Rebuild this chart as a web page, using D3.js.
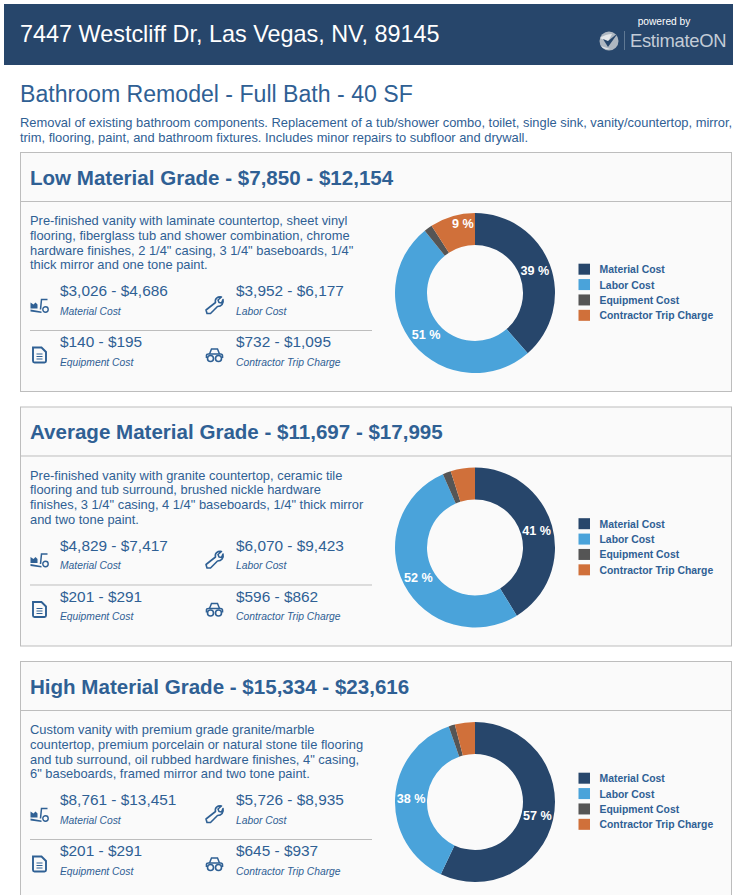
<!DOCTYPE html>
<html>
<head>
<meta charset="utf-8">
<script src="https://cdn.jsdelivr.net/npm/d3@7"></script>
<style>
  html, body { margin: 0; padding: 0; background: #fff; overflow: hidden; }
  svg { display: block; font-family: "Liberation Sans", Arial, sans-serif; }
</style>
</head>
<body>
<script>
const address = '7447 Westcliff Dr, Las Vegas, NV, 89145';
const pageTitle = 'Bathroom Remodel - Full Bath - 40 SF';
const intro = [
  'Removal of existing bathroom components. Replacement of a tub/shower combo, toilet, single sink, vanity/countertop, mirror,',
  'trim, flooring, paint, and bathroom fixtures. Includes minor repairs to subfloor and drywall.'
];

const costNames = ['Material Cost', 'Labor Cost', 'Equipment Cost', 'Contractor Trip Charge'];
const costColors = ['#27466b', '#4aa3da', '#555555', '#d0703a'];

const gradeTitles = [
  'Low Material Grade - $7,850 - $12,154',
  'Average Material Grade - $11,697 - $17,995',
  'High Material Grade - $15,334 - $23,616'
];
const gradeText = [
  ['Pre-finished vanity with laminate countertop, sheet vinyl',
   'flooring, fiberglass tub and shower combination, chrome',
   'hardware finishes, 2 1/4" casing, 3 1/4" baseboards, 1/4"',
   'thick mirror and one tone paint.'],
  ['Pre-finished vanity with granite countertop, ceramic tile',
   'flooring and tub surround, brushed nickle hardware',
   'finishes, 3 1/4" casing, 4 1/4" baseboards, 1/4" thick mirror',
   'and two tone paint.'],
  ['Custom vanity with premium grade granite/marble',
   'countertop, premium porcelain or natural stone tile flooring',
   'and tub surround, oil rubbed hardware finishes, 4" casing,',
   '6" baseboards, framed mirror and two tone paint.']
];
// low and high of each cost, same order as costNames
const lowCosts = [
  [3026, 3952, 140, 732],
  [4829, 6070, 201, 596],
  [8761, 5726, 201, 645]
];
const highCosts = [
  [4686, 6177, 195, 1095],
  [7417, 9423, 291, 862],
  [13451, 8935, 291, 937]
];

const width = 733, height = 895;
const blue = '#2f6094';
const money = d3.format('$,');

const svg = d3.select('body').append('svg').attr('width', width).attr('height', height);

// header band
svg.append('rect').attr('x', 4).attr('y', 4).attr('width', width - 4).attr('height', 61).attr('fill', '#27466b');
svg.append('text').attr('x', 20).attr('y', 42).attr('fill', '#fff').attr('font-size', 23.4).text(address);
svg.append('text').attr('x', 664).attr('y', 25).attr('fill', '#fff').attr('font-size', 10.2)
  .attr('text-anchor', 'middle').text('powered by');
svg.append('text').attr('x', 630).attr('y', 47).attr('fill', '#c3ccd7').attr('font-size', 18.4)
  .attr('letter-spacing', -0.3).text('EstimateON');
svg.append('line').attr('x1', 624.5).attr('x2', 624.5).attr('y1', 31).attr('y2', 50).attr('stroke', '#5f7893');
const logo = svg.append('g').attr('transform', 'translate(609,41)');
logo.append('circle').attr('r', 9.5).attr('fill', '#aeb7c1');
logo.append('path').attr('d', 'M-9,-3 Q-3,-7 3,-7 L-1,1 Z').attr('fill', '#e4e7ea');
logo.append('path').attr('d', 'M-6,-2 L-1,6 L9,-8 L-1,0 Z').attr('fill', '#27466b');
logo.append('path').attr('d', 'M-8,5 L-2,7 L1,8 Q-5,9 -8,5 Z').attr('fill', '#dfe3e7');

svg.append('text').attr('x', 20).attr('y', 102).attr('fill', blue).attr('font-size', 23.1).text(pageTitle);
svg.selectAll('.intro').data(intro).join('text').attr('class', 'intro')
  .attr('x', 20).attr('y', (d, i) => 127 + i * 15.3).attr('fill', blue).attr('font-size', 12.9).text(d => d);

const icons = [
  // cart
  g => {
    g.append('path').attr('d', 'M-9,-3 L-6,-1 L-4,-3 L-2,-1 L-2,3 L-9,3 Z M-9,4 L2,6 L2,7.5 L-9,6 Z').attr('fill', blue);
    g.append('path').attr('d', 'M8,-6 L2,-6 L1,4').attr('fill', 'none').attr('stroke', blue).attr('stroke-width', 1.5);
    g.append('circle').attr('cx', 6).attr('cy', 4).attr('r', 2.7).attr('fill', 'none').attr('stroke', blue).attr('stroke-width', 1.4);
  },
  // wrench
  g => g.append('path').attr('d', 'M-7.5,8 L-8.5,4.5 L1,-3 C0,-7 3,-9 7,-8.5 L3.5,-5.5 L4.5,-3 L7,-2.5 L8.5,-6 C9.5,-2 7,1 3,1 L-4,8 Z')
    .attr('fill', 'none').attr('stroke', blue).attr('stroke-width', 1.6).attr('stroke-linejoin', 'round'),
  // document
  g => {
    g.append('path').attr('d', 'M-6.5,-7.5 L2,-7.5 L6.5,-3 L6.5,6 Q6.5,7.5 5,7.5 L-5,7.5 Q-6.5,7.5 -6.5,6 Z').attr('fill', '#fafafa').attr('stroke', blue).attr('stroke-width', 1.9);
    g.append('path').attr('d', 'M-3,-1 L3,-1 M-3,1.5 L3,1.5 M-3,4 L3,4').attr('stroke', blue).attr('stroke-width', 1.1);
  },
  // car
  g => {
    g.append('path').attr('d', 'M-5,-1 L-3,-6 L3,-6 L5,-1').attr('fill', 'none').attr('stroke', blue).attr('stroke-width', 1.5);
    g.append('path').attr('d', 'M-8,3 L-8,0 Q-8,-1 -6,-1 L6,-1 Q8,-1 8,1 L8,3').attr('fill', 'none').attr('stroke', blue).attr('stroke-width', 1.6);
    [-4, 4].forEach(x => g.append('circle').attr('cx', x).attr('cy', 3.5).attr('r', 3).attr('fill', '#fafafa').attr('stroke', blue).attr('stroke-width', 1.6));
  }
];

// one card per grade, charts are at the same spot in each card
const cardTop = d3.scaleLinear().domain([0, 1]).range([152, 406.5]);
const arc = d3.arc().innerRadius(48).outerRadius(80);
const pie = d3.pie().sort(null).value(d => d);
const labelPct = d3.format('.0f');

gradeTitles.forEach((title, k) => {
  const card = svg.append('g').attr('transform', `translate(0,${cardTop(k)})`);
  card.append('rect').attr('x', 20.5).attr('y', 0.5).attr('width', 711).attr('height', 239)
    .attr('fill', '#fafafa').attr('stroke', '#bdbdbd').attr('stroke-width', 1);
  card.append('line').attr('x1', 20).attr('x2', 732).attr('y1', 49.5).attr('y2', 49.5).attr('stroke', '#bdbdbd');
  card.append('text').attr('x', 30).attr('y', 32.5).attr('fill', blue).attr('font-size', 20.55)
    .attr('font-weight', 'bold').text(title);
  card.selectAll('.desc').data(gradeText[k]).join('text').attr('class', 'desc')
    .attr('x', 30).attr('y', (d, i) => 73 + i * 14.8).attr('fill', blue).attr('font-size', 12.9).text(d => d);

  // the four cost cells
  card.append('line').attr('x1', 30).attr('x2', 372).attr('y1', 178.5).attr('y2', 178.5).attr('stroke', '#bdbdbd');
  costNames.forEach((name, i) => {
    const x = i % 2 ? 236 : 60;
    const y = i < 2 ? 0 : 51;
    card.append('text').attr('x', x).attr('y', 144.2 + y).attr('fill', blue).attr('font-size', 15.4)
      .text(`${money(lowCosts[k][i])} - ${money(highCosts[k][i])}`);
    card.append('text').attr('x', x).attr('y', 162.5 + y).attr('fill', blue).attr('font-size', 10.3)
      .attr('font-style', 'italic').text(name);
    icons[i](card.append('g').attr('transform', `translate(${i % 2 ? 214.5 : 39.5},${i < 2 ? 153.5 : 203})`));
  });

  // donut uses the middle of each range
  const mids = lowCosts[k].map((d, i) => (d + highCosts[k][i]) / 2);
  const total = d3.sum(mids);
  const donut = card.append('g').attr('transform', 'translate(475,141)');
  const slices = pie(mids);
  donut.selectAll('path').data(slices).join('path')
    .attr('d', arc).attr('fill', (d, i) => costColors[i]);
  donut.selectAll('text').data(slices.filter(d => d.value / total >= 0.09)).join('text')
    .attr('transform', d => {
      const c = arc.centroid(d);
      // the small top slice keeps its label pushed up to the rim
      const nudge = d.index === 3 ? [6, -8] : [0, 0];
      return `translate(${c[0] + nudge[0]},${c[1] + nudge[1]})`;
    })
    .attr('text-anchor', 'middle').attr('dy', '0.35em')
    .attr('fill', '#fff').attr('font-size', 12.6).attr('font-weight', 'bold')
    .text(d => labelPct(d.value / total * 100) + ' %');

  // legend
  const legendY = d3.scaleBand().domain(costNames).range([111.7, 173.2]);
  const legend = card.append('g');
  costNames.forEach((name, i) => {
    legend.append('rect').attr('x', 578.5).attr('y', legendY(name)).attr('width', 11.5).attr('height', 11).attr('fill', costColors[i]);
    legend.append('text').attr('x', 599.5).attr('y', legendY(name) + 9.5).attr('fill', blue)
      .attr('font-size', 10.4).attr('font-weight', 'bold').text(name);
  });
});
</script>
</body>
</html>
